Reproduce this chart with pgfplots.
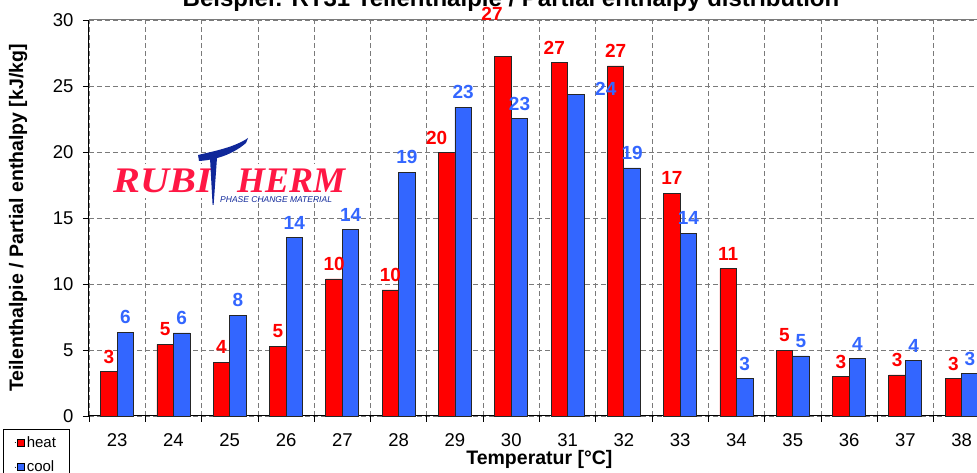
\documentclass[border=0pt]{standalone}
\usepackage{fontspec}
\setmainfont{Liberation Sans}
\newfontfamily\logofont{Liberation Serif}
\usepackage{pgfplots}
\usepackage{pgfplotstable}
\pgfplotsset{compat=1.18}
\definecolor{heat}{HTML}{FF0000}
\definecolor{cool}{HTML}{3366FF}
\definecolor{logored}{HTML}{FF1744}
\definecolor{logoblue}{HTML}{10289A}
\definecolor{gridgray}{HTML}{7A7A7A}

\pgfplotstableread{
x y lab dx dy
0 3.36 3 0 0
1 5.43 5 0 0
2 4.07 4 0 0
3 5.30 5 0 0
4 10.38 10 0 0
5 9.55 10 0 0
6 19.95 20 -10 0
7 27.25 27 -11 27
8 26.77 27 -5 0
9 26.52 27 0 0
10 16.87 17 0 0
11 11.16 11 0 0
12 4.97 5 0 0
13 2.98 3 0 0
14 3.11 3 0 0
15 2.83 3 0 0
}\heatdata

\pgfplotstableread{
x y lab dx dy
0 6.36 6 0 0
1 6.29 6 0 0
2 7.65 8 0 0
3 13.50 14 0 0
4 14.10 14 0 0
5 18.46 19 0 0
6 23.39 23 0 0
7 22.52 23 0 0
8 24.37 24 30 -10
9 18.79 19 0 0
10 13.84 14 0 0
11 2.83 3 0 0
12 4.55 5 0 0
13 4.34 4 0 0
14 4.19 4 0 0
15 3.20 3 0 0
}\cooldata

\begin{document}
\begin{tikzpicture}[x=1pt,y=1pt]
\begin{axis}[
  at={(89pt,57pt)}, anchor=south west,
  scale only axis, width=900.8pt, height=396pt,
  xmin=-0.5, xmax=15.5, ymin=0, ymax=30,
  ybar, bar width=16.5pt,
  clip=false,
  axis x line*=bottom, axis y line*=left,
  axis line style={black, line width=1pt, -},
  xtick={0,...,15},
  xticklabels={23,24,25,26,27,28,29,30,31,32,33,34,35,36,37,38},
  minor xtick={-0.5,0.5,...,15.5},
  major x tick style={draw=none},
  minor x tick style={black, line width=0.8pt},
  xminorgrids=true, xmajorgrids=false,
  ymajorgrids=true,
  ytick={0,5,...,30},
  y tick style={black, line width=0.8pt},
  minor grid style={gridgray, dash pattern=on 5pt off 3pt, line width=0.8pt},
  major grid style={gridgray, dash pattern=on 5pt off 3pt, line width=0.8pt},
  tick align=outside,
  major tick length=6pt, minor tick length=6pt,
  /pgf/number format/assume math mode=true,
  tick label style={font=\fontsize{18.5}{22}\selectfont},
  xticklabel style={anchor=base, yshift=-25pt},
  yticklabel style={xshift=-6pt},
  xlabel={Temperatur [°C]},
  xlabel style={font=\bfseries\fontsize{19.5}{23}\selectfont, at={(axis description cs:0.5,0)}, anchor=base, yshift=-49pt},
  ylabel={Teilenthalpie / Partial enthalpy [kJ/kg]},
  ylabel style={font=\bfseries\fontsize{19.5}{23}\selectfont, at={(axis description cs:-0.0788,0.5)}, anchor=center},
  legend style={at={(axis description cs:-0.0958,-0.0328)}, anchor=north west, draw=black, line width=0.8pt,
    font=\fontsize{15}{18}\selectfont, row sep=8pt, inner xsep=11pt, inner ysep=5pt, cells={anchor=west}},
  nodes near coords,
  point meta=explicit symbolic,
  visualization depends on={\thisrow{dx} \as \dxv},
  visualization depends on={\thisrow{dy} \as \dyv},
  every node near coord/.append style={anchor=south, inner sep=0pt, yshift=8pt,
     xshift=\dxv*1pt, yshift=\dyv*1pt, font=\bfseries\fontsize{19}{23}\selectfont},
]
\addplot[fill=heat, draw=black!85, line width=0.8pt, bar shift=-8.25pt,
  every node near coord/.append style={text=heat},
  legend image code/.code={\path (7pt,0pt) -- (8pt,0pt); \draw[fill=heat, draw=black, line width=0.6pt] (10pt,-3.5pt) rectangle (17pt,3.5pt);}]
  table[x=x, y=y, meta=lab] {\heatdata};
\addlegendentry{heat}
\addplot[fill=cool, draw=black!85, line width=0.8pt, bar shift=8.25pt,
  every node near coord/.append style={text=cool},
  legend image code/.code={\path (7pt,0pt) -- (8pt,0pt); \draw[fill=cool, draw=black, line width=0.6pt] (10pt,-3.5pt) rectangle (17pt,3.5pt);}]
  table[x=x, y=y, meta=lab] {\cooldata};
\addlegendentry{cool}
\draw[gridgray, line width=1pt] (rel axis cs:0,1) -- (rel axis cs:1,1);
\end{axis}
% title
\node[anchor=base, inner sep=0pt, font=\bfseries\fontsize{24}{28}\selectfont] at (511,466)
  {Beispiel: RT31 Teilenthalpie / Partial enthalpy distribution};
% logo
\fill[white] (108,275) rectangle (352,309);
\node[anchor=base west, inner sep=0pt, text=logored, xscale=1.12, font=\logofont\bfseries\itshape\fontsize{36}{40}\selectfont] at (113,280) {RUBI};
\node[anchor=base west, inner sep=0pt, text=logored, font=\logofont\bfseries\itshape\fontsize{36}{40}\selectfont] at (237,280) {HERM};
\fill[logoblue] (198,318) .. controls (215,322) and (235,326) .. (248,335) -- (246,330) .. controls (232,318) and (215,313) .. (199,312) -- cycle;
\fill[logoblue] (210,315) -- (217,315) -- (213.6,268) -- (212.6,268) -- cycle;
\node[anchor=base west, inner sep=0pt, text=logoblue, font=\itshape\fontsize{8.5}{10}\selectfont] at (220,270) {PHASE CHANGE MATERIAL};
\pgfresetboundingbox
\path[use as bounding box] (0,0) rectangle (977,473);
\end{tikzpicture}
\end{document}
